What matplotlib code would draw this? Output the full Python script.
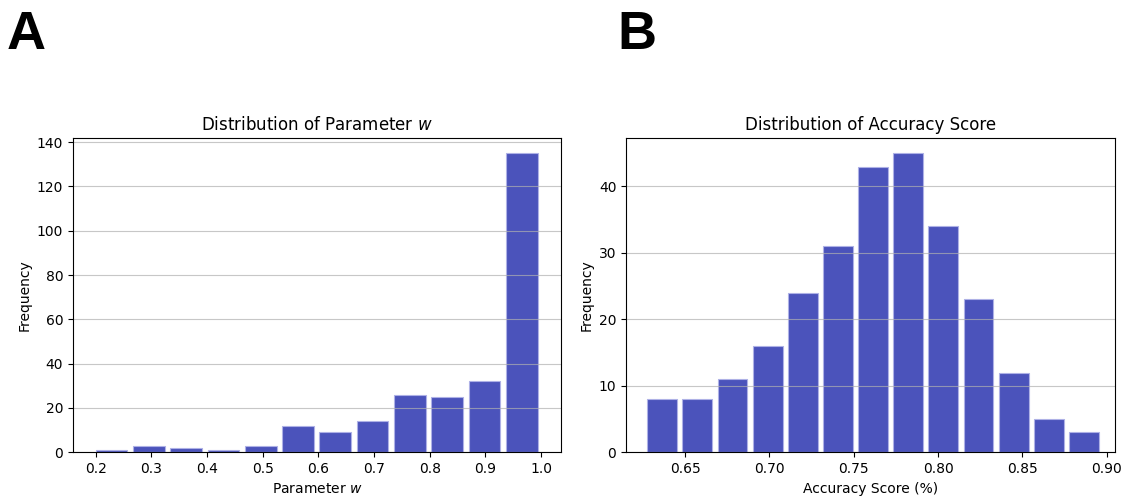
import numpy as np
import matplotlib.pyplot as plt

# histogram counts
w_counts = [1, 3, 2, 1, 3, 12, 9, 14, 26, 25, 32, 135]
w_lo, w_hi = 0.195, 0.999

acc_counts = [8, 8, 11, 16, 24, 31, 43, 45, 34, 23, 12, 5, 3]
acc_lo, acc_hi = 0.626, 0.897

bar_color = '#4B53BB'
edge_color = '#aeb1e6'


def draw_hist(ax, counts, lo, hi, title, xlabel):
    edges = np.linspace(lo, hi, len(counts) + 1)
    centers = (edges[:-1] + edges[1:]) / 2
    ax.hist(centers, bins=edges, weights=counts, rwidth=0.85,
            color=bar_color, edgecolor=edge_color, linewidth=0.8)
    ax.set_title(title, fontsize=12)
    ax.set_xlabel(xlabel, fontsize=10)
    ax.set_ylabel('Frequency', fontsize=10)
    ax.yaxis.grid(True, alpha=0.7)


fig = plt.figure(figsize=(11.26, 4.99), dpi=100)
ax1 = fig.add_axes([0.0648, 0.0936, 0.4334, 0.6293])
ax2 = fig.add_axes([0.5560, 0.0936, 0.4343, 0.6293])

draw_hist(ax1, w_counts, w_lo, w_hi, 'Distribution of Parameter $w$', 'Parameter $w$')
draw_hist(ax2, acc_counts, acc_lo, acc_hi, 'Distribution of Accuracy Score', 'Accuracy Score (%)')
ax1.set_xticks([0.2, 0.3, 0.4, 0.5, 0.6, 0.7, 0.8, 0.9, 1.0])
ax1.set_xlim(0.159, 1.036)
ax2.set_xlim(0.615, 0.905)

# panel letters
fig.text(0.006, 0.902, 'A', fontsize=39, fontweight='bold',
         family='Liberation Sans', va='baseline')
fig.text(0.548, 0.902, 'B', fontsize=39, fontweight='bold',
         family='Liberation Sans', va='baseline')

fig.savefig('out.png', dpi=100)
